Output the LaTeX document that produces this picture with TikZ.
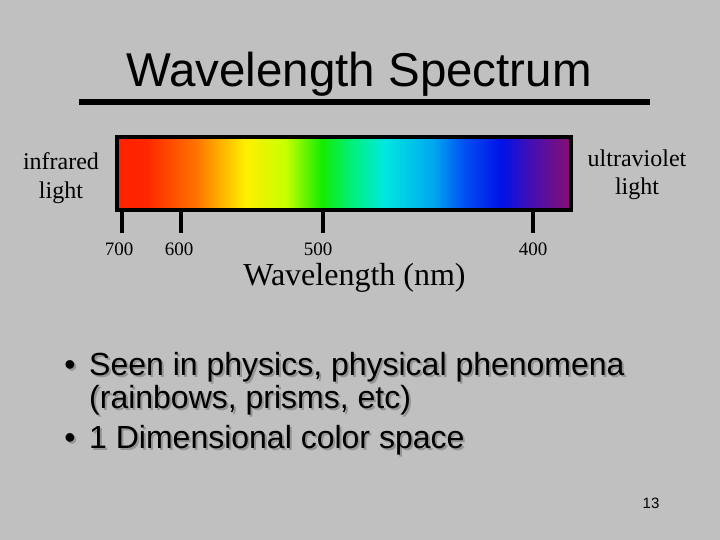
\documentclass[tikz,border=0pt]{standalone}
\usepackage{fontspec}
\setmainfont{Liberation Serif}
\newfontfamily\arialfont{Liberation Sans}
\newcommand\shtext[1]{\makebox[0pt][l]{\kern2pt\raisebox{-2pt}{\color{black!42}#1}}#1}
\pgfdeclarehorizontalshading{spectrumshade}{100bp}{%
  rgb(0bp)=(1,0.13,0);
  rgb(25bp)=(1,0.13,0);
  rgb(28bp)=(1,0.15,0);
  rgb(33.5bp)=(1,0.45,0);
  rgb(39bp)=(1,0.94,0);
  rgb(43.5bp)=(0.78,1,0);
  rgb(47.5bp)=(0.08,0.93,0);
  rgb(51bp)=(0,0.94,0.5);
  rgb(54.5bp)=(0,0.91,0.88);
  rgb(60bp)=(0,0.65,0.94);
  rgb(63.5bp)=(0,0.3,0.95);
  rgb(67.5bp)=(0,0.07,0.91);
  rgb(70.5bp)=(0.25,0.06,0.72);
  rgb(75bp)=(0.52,0.06,0.45);
  rgb(100bp)=(0.52,0.06,0.45)}
\begin{document}
\begin{tikzpicture}[x=1pt,y=-1pt,
  lbl/.style={inner sep=0pt,anchor=base},
  ticklbl/.style={lbl,font=\fontsize{19}{22}\selectfont},
  sidelbl/.style={lbl,font=\fontsize{24}{29}\selectfont},
  tickline/.style={line width=4pt},
  bul/.style={inner sep=0pt,anchor=base west,font=\arialfont\fontsize{32}{34}\selectfont}]
\useasboundingbox[fill={rgb,255:red,192;green,192;blue,192}] (0,0) rectangle (720,540);
% title
\node[lbl,font=\arialfont\fontsize{47.5}{56}\selectfont] (title) at (359,87) {Wavelength Spectrum};
\coordinate (ulL) at (79,102);
\coordinate (ulR) at (650,102);
\draw[line width=6pt] (ulL) -- (ulR);
% spectrum bar
\shade[shading=spectrumshade] (119,139) rectangle (569,208);
\draw[line width=4pt] (117,137) rectangle (571,210);
% ticks
\foreach \x/\n in {122/a,181/b,323/c,533/d}{
  \coordinate (t\n top) at (\x,210);
  \coordinate (t\n bot) at (\x,233);
  \draw[tickline] (t\n top) -- (t\n bot);
}
\node[ticklbl] (l700) at (119,255) {700};
\node[ticklbl] (l600) at (179,255) {600};
\node[ticklbl] (l500) at (318,255) {500};
\node[ticklbl] (l400) at (533,255) {400};
\node[lbl,font=\fontsize{32}{36}\selectfont] (wl) at (354.5,285) {Wavelength (nm)};
% side labels
\node[sidelbl] (ir1) at (61,170) {infrared};
\node[sidelbl] (ir2) at (61,199) {light};
\node[sidelbl] (uv1) at (637,167) {ultraviolet};
\node[sidelbl] (uv2) at (637,195) {light};
% bullets with shadows
\node[bul,anchor=base] (b1) at (70,375) {\shtext{•}};
\node[bul] (t1) at (89,375) {\shtext{Seen in physics, physical phenomena}};
\node[bul] (t2) at (89,408) {\shtext{(rainbows, prisms, etc)}};
\node[bul,anchor=base] (b2) at (70,448) {\shtext{•}};
\node[bul] (t3) at (89,448) {\shtext{1 Dimensional color space}};
% page number
\node[lbl,font=\arialfont\fontsize{15}{18}\selectfont] (pg) at (651,508) {13};
\end{tikzpicture}
\end{document}
